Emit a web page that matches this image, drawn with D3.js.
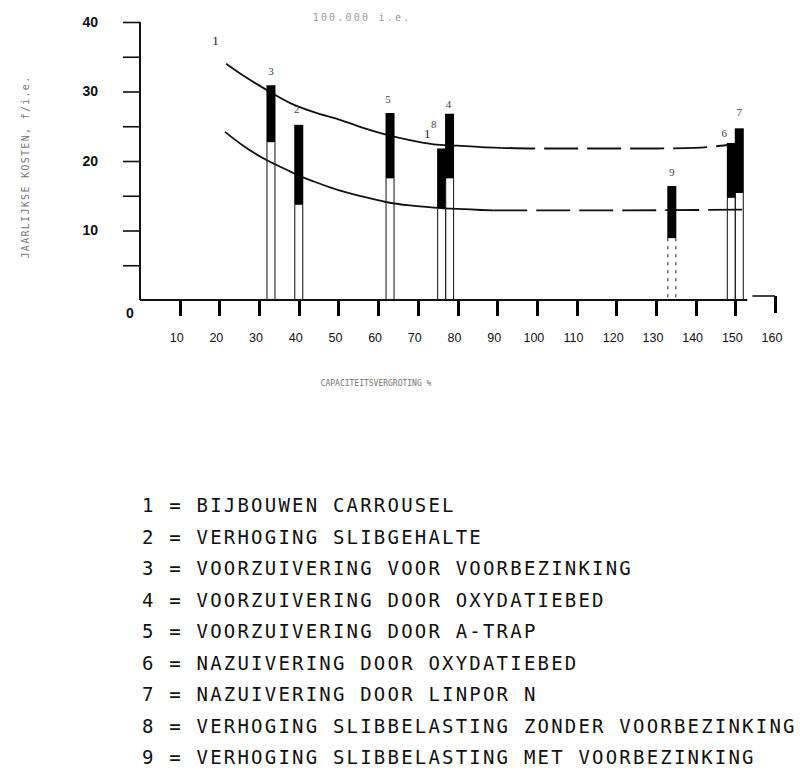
<!DOCTYPE html>
<html>
<head>
<meta charset="utf-8">
<script src="https://cdn.jsdelivr.net/npm/d3@7"></script>
<style>
  body { margin: 0; background: #fff; }
  svg { display: block; }
  .tick text { font-family: "Liberation Sans", Arial, sans-serif; }
</style>
</head>
<body>
<div id="chart"></div>
<script>
// capacity increase (%) vs yearly cost (f / i.e.)
var upperSolid = [[21.7, 34.0], [26, 32.3], [32, 30.2], [38, 28.3], [44, 27.0], [50, 26.0], [56, 24.8],
                  [62, 23.8], [68, 23.0], [74, 22.4], [80, 22.2], [86, 22.0], [91, 21.9]];
var upperDashed = [[91, 21.9], [100, 21.8], [110, 21.8], [120, 21.8], [130, 21.8], [140, 21.9], [145, 22.1], [148, 22.3]];
var lowerSolid = [[21.4, 24.2], [26, 22.2], [32, 20.1], [36, 19.0], [40, 17.9], [45, 16.8], [50, 15.8],
                  [56, 14.9], [62, 14.1], [68, 13.6], [74, 13.3], [80, 13.1], [86, 12.95], [89, 12.9]];
var lowerDashed = [[89, 12.9], [100, 12.9], [120, 12.9], [140, 12.95], [152, 13.0]];

var barIds = ["3", "2", "5", "8", "4", "9", "6", "7"];
var barX = [33, 40, 63, 76, 78, 134, 149, 151];
var barTop = [30.9, 25.2, 26.9, 21.8, 26.8, 16.4, 22.6, 24.7];
var barBlackBottom = [22.7, 13.7, 17.5, 13.2, 17.5, 8.9, 14.7, 15.4];

var curveLabels = [["1", 19, 37.4], ["1", 72.4, 24.0]];

var xTicks = [10, 20, 30, 40, 50, 60, 70, 80, 90, 100, 110, 120, 130, 140, 150, 160];
var yTicks = [5, 10, 15, 20, 25, 30, 35, 40];
var yLabels = [10, 20, 30, 40];

var legendItems = [
  "1 = BIJBOUWEN CARROUSEL",
  "2 = VERHOGING SLIBGEHALTE",
  "3 = VOORZUIVERING VOOR VOORBEZINKING",
  "4 = VOORZUIVERING DOOR OXYDATIEBED",
  "5 = VOORZUIVERING DOOR A-TRAP",
  "6 = NAZUIVERING DOOR OXYDATIEBED",
  "7 = NAZUIVERING DOOR LINPOR N",
  "8 = VERHOGING SLIBBELASTING ZONDER VOORBEZINKING",
  "9 = VERHOGING SLIBBELASTING MET VOORBEZINKING"
];

// label nudges (px) for the bar numbers
var labelNudge = { "3": [0, -14], "2": [-2, -16], "5": [-2, -14], "8": [-8, -24], "4": [-1, -10],
                   "9": [0, -14], "6": [-7, -10], "7": [0, -16] };

var W = 803, H = 774;
var svg = d3.select("#chart").append("svg").attr("width", W).attr("height", H);
svg.append("rect").attr("width", W).attr("height", H).attr("fill", "#fff");

var x = d3.scaleLinear().domain([0, 160]).range([140, 775]);
var y = d3.scaleLinear().domain([0, 40]).range([300, 22]);

// y axis
var yAxis = d3.axisLeft(y).tickValues(yTicks).tickSize(17).tickPadding(25)
  .tickFormat(function (d) { return yLabels.indexOf(d) >= 0 ? d : ""; });
var gy = svg.append("g").attr("transform", "translate(140,0)").call(yAxis);
gy.select(".domain").remove();
gy.selectAll("line").attr("stroke", "#111").attr("stroke-width", 1.6);
gy.selectAll("text").attr("font-size", 14).attr("font-weight", "bold").attr("fill", "#111");
svg.append("line").attr("x1", 140).attr("x2", 140).attr("y1", y(40)).attr("y2", y(0))
  .attr("stroke", "#111").attr("stroke-width", 2);
svg.append("text").attr("x", 130).attr("y", 318).attr("text-anchor", "middle")
  .attr("font-family", "Liberation Sans, Arial, sans-serif").attr("font-size", 14)
  .attr("font-weight", "bold").attr("fill", "#111").text("0");

// x axis ticks and labels
var gx = svg.append("g").attr("class", "xaxis");
gx.selectAll("rect").data(xTicks).join("rect")
  .attr("x", function (d) { return Math.round(x(d)) - 1; }).attr("width", 3)
  .attr("y", function (d) { return d === 160 ? 296 : 299; }).attr("height", 17)
  .attr("fill", "#000");
gx.selectAll("text").data(xTicks).join("text")
  .attr("x", function (d) { return x(d) - 3; }).attr("y", 342).attr("text-anchor", "middle")
  .attr("font-family", "Liberation Sans, Arial, sans-serif").attr("font-size", 12.5).attr("fill", "#111")
  .text(function (d) { return d; });
svg.append("line").attr("x1", 140).attr("x2", x(153)).attr("y1", 300).attr("y2", 300)
  .attr("stroke", "#111").attr("stroke-width", 2);
svg.append("line").attr("x1", x(154.3)).attr("x2", x(160)).attr("y1", 296).attr("y2", 296)
  .attr("stroke", "#111").attr("stroke-width", 1.6);

// titles
svg.append("text").attr("x", 362).attr("y", 21).attr("text-anchor", "middle")
  .attr("font-family", "DejaVu Sans Mono, monospace").attr("font-size", 10)
  .attr("letter-spacing", 2.2).attr("fill", "#999").text("100.000 i.e.");
svg.append("text").attr("x", 376).attr("y", 386).attr("text-anchor", "middle")
  .attr("font-family", "DejaVu Sans Mono, monospace").attr("font-size", 8)
  .attr("fill", "#777").text("CAPACITEITSVERGROTING %");
svg.append("text").attr("transform", "translate(29,167) rotate(-90)").attr("text-anchor", "middle")
  .attr("font-family", "DejaVu Sans Mono, monospace").attr("font-size", 10)
  .attr("letter-spacing", 1.3).attr("fill", "#777").text("JAARLIJKSE KOSTEN, f/i.e.");

// curves
var line = d3.line().x(function (d) { return x(d[0]); }).y(function (d) { return y(d[1]); })
  .curve(d3.curveMonotoneX);
[upperSolid, lowerSolid].forEach(function (c) {
  svg.append("path").attr("d", line(c)).attr("fill", "none").attr("stroke", "#111").attr("stroke-width", 1.8);
});
[upperDashed, lowerDashed].forEach(function (c) {
  svg.append("path").attr("d", line(c)).attr("fill", "none").attr("stroke", "#111")
    .attr("stroke-width", 1.8).attr("stroke-dasharray", "34,9");
});

// bars
var barW = 9;
var bars = barIds.map(function (id, i) {
  return { id: id, x: barX[i], top: barTop[i], bottom: barBlackBottom[i] };
});
var bg = svg.append("g");
bars.forEach(function (b) {
  var cx = x(b.x);
  [cx - barW / 2 + 0.5, cx + barW / 2 - 0.5].forEach(function (lx) {
    bg.append("line").attr("x1", lx).attr("x2", lx).attr("y1", y(b.bottom)).attr("y2", y(0))
      .attr("stroke", "#222").attr("stroke-width", 1.1)
      .attr("stroke-dasharray", b.id === "9" ? "3,5" : null);
  });
  bg.append("rect").attr("x", cx - barW / 2).attr("width", barW)
    .attr("y", y(b.top)).attr("height", y(b.bottom) - y(b.top)).attr("fill", "#000");
  var n = labelNudge[b.id];
  bg.append("text").attr("x", cx + n[0]).attr("y", y(b.top) + n[1] + 4).attr("text-anchor", "middle")
    .attr("font-family", "Liberation Serif, serif").attr("font-size", 11).attr("fill", "#444").text(b.id);
});
curveLabels.forEach(function (c) {
  svg.append("text").attr("x", x(c[1])).attr("y", y(c[2]) + 5).attr("text-anchor", "middle")
    .attr("font-family", "Liberation Serif, serif").attr("font-size", 13).attr("fill", "#222").text(c[0]);
});

// legend
svg.append("g").selectAll("text").data(legendItems).join("text")
  .attr("x", 142).attr("y", function (d, i) { return 512 + i * 31.5; })
  .attr("font-family", "DejaVu Sans Mono, monospace").attr("font-size", 19)
  .attr("letter-spacing", 2.2).attr("fill", "#111").text(function (d) { return d; });
</script>
</body>
</html>
